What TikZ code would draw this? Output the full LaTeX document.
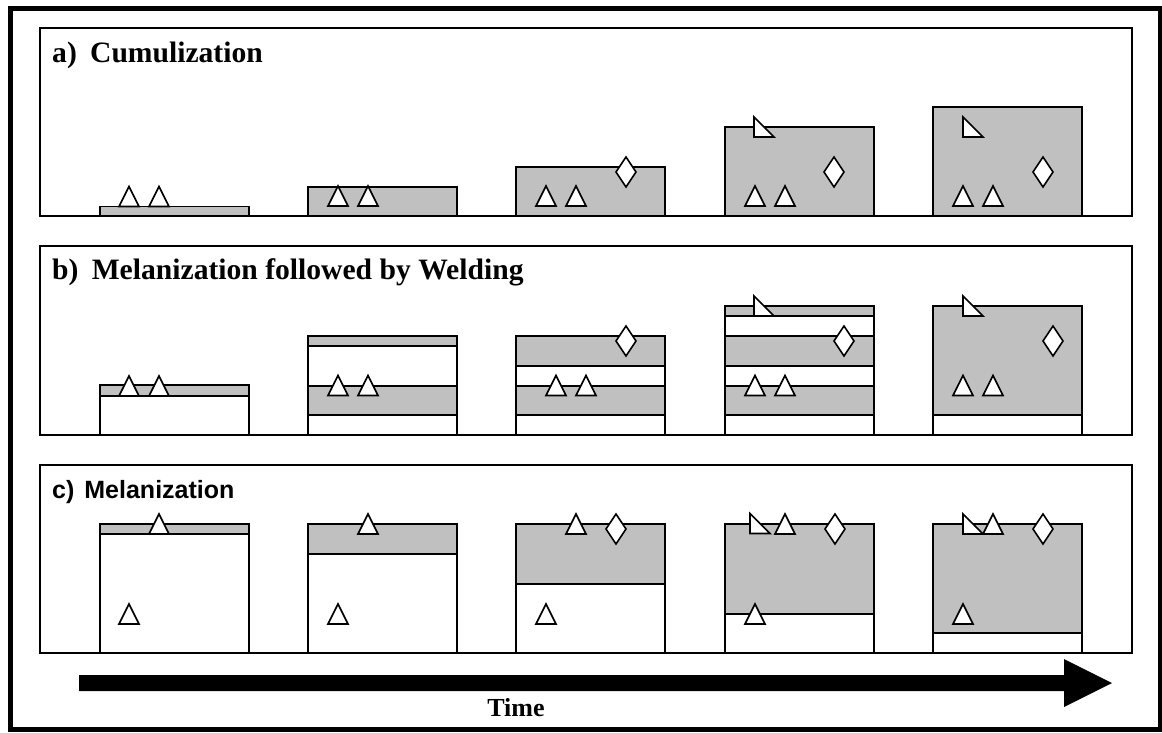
\documentclass[tikz,border=0pt]{standalone}
\usepackage{fontspec}
\setmainfont{Liberation Serif}
\newfontfamily\helvfam{Liberation Sans}
\definecolor{layergray}{HTML}{C0C0C0}
\tikzset{
  outerframe/.style={draw=black, line width=5pt},
  panel/.style={draw=black, line width=1.5pt},
  layerbox/.style={draw=black, line width=1.8pt},
  marker/.style={draw=black, fill=white, line width=1.6pt, line join=miter},
  title/.style={anchor=base west, inner sep=0pt, font=\bfseries\fontsize{29.6}{32}\selectfont},
  timearrow/.style={fill=black, draw=none},
}
\newcommand\mkLay[4]{\draw[layerbox, fill=#4] ({#1},{#2}) rectangle ({#1+149},{#3});}
\newcommand\mkTri[2]{\draw[marker] ({#1-10},{#2}) -- ({#1},{#2-20}) -- ({#1+10},{#2}) -- cycle;}
\newcommand\mkDia[2]{\draw[marker] ({#1},{#2-15}) -- ({#1+10},{#2}) -- ({#1},{#2+15}) -- ({#1-10},{#2}) -- cycle;}
\newcommand\mkRtri[2]{\draw[marker] ({#1},{#2-20}) -- ({#1+20},{#2}) -- ({#1},{#2}) -- cycle;}
\begin{document}
\begin{tikzpicture}[x=1pt,y=-1pt]
\useasboundingbox (0,0) rectangle (1162,732);
\draw[outerframe] (10.3,8) rectangle (1160.5,729.5);

% ---------- panel a ----------
\draw[panel] (40,28) rectangle (1132,216);
\node[title] (ta) at (52,62) {a)\hspace{0.45em}Cumulization};
\mkLay{100}{206.5}{216}{layergray}
\mkLay{308}{186.7}{216}{layergray}
\mkLay{516}{167.3}{216}{layergray}
\mkLay{725}{127.3}{216}{layergray}
\mkLay{933}{107.3}{216}{layergray}
\mkTri{129}{206.5}\mkTri{159}{206.5}
\mkTri{338}{206}\mkTri{368}{206}
\mkTri{546}{206}\mkTri{576}{206}
\mkTri{755}{206}\mkTri{785}{206}
\mkTri{963}{206}\mkTri{993}{206}
\mkDia{626}{172}\mkDia{834}{172}\mkDia{1043}{172}
\mkRtri{754}{137}\mkRtri{963}{137}

% ---------- panel b ----------
\draw[panel] (40,246) rectangle (1132,435);
\node[title] (tb) at (52,279) {b)\hspace{0.45em}Melanization followed by Welding};
% col 1
\mkLay{100}{385}{396}{layergray}
\mkLay{100}{396}{435}{white}
% col 2
\mkLay{308}{336}{346}{layergray}
\mkLay{308}{346}{386}{white}
\mkLay{308}{386}{415}{layergray}
\mkLay{308}{415}{435}{white}
% col 3
\mkLay{516}{336}{366}{layergray}
\mkLay{516}{366}{386}{white}
\mkLay{516}{386}{415}{layergray}
\mkLay{516}{415}{435}{white}
% col 4
\mkLay{725}{306}{316}{layergray}
\mkLay{725}{316}{336}{white}
\mkLay{725}{336}{366}{layergray}
\mkLay{725}{366}{386}{white}
\mkLay{725}{386}{415}{layergray}
\mkLay{725}{415}{435}{white}
% col 5
\mkLay{933}{306}{415}{layergray}
\mkLay{933}{415}{435}{white}
\mkTri{129}{396}\mkTri{159}{396}
\mkTri{338}{395.5}\mkTri{368}{395.5}
\mkTri{556}{395.5}\mkTri{586}{395.5}
\mkTri{755}{395.5}\mkTri{785}{395.5}
\mkTri{963}{395.5}\mkTri{993}{395.5}
\mkDia{626}{341}\mkDia{844}{341}\mkDia{1053}{341}
\mkRtri{754}{316}\mkRtri{963}{316}

% ---------- panel c ----------
\draw[panel] (40,465) rectangle (1132,653);
\node[title, font=\helvfam\bfseries\fontsize{25}{28}\selectfont] (tc) at (52,498) {c)\hspace{0.4em}Melanization};
\mkLay{100}{524}{534}{layergray}
\mkLay{100}{534}{653}{white}
\mkLay{308}{524}{554}{layergray}
\mkLay{308}{554}{653}{white}
\mkLay{516}{524}{584}{layergray}
\mkLay{516}{584}{653}{white}
\mkLay{725}{524}{614}{layergray}
\mkLay{725}{614}{653}{white}
\mkLay{933}{524}{633}{layergray}
\mkLay{933}{633}{653}{white}
\mkTri{159}{534}\mkTri{129}{624}
\mkTri{368}{534}\mkTri{338}{624}
\mkTri{576}{534}\mkTri{546}{624}
\mkTri{785}{534}\mkTri{755}{624}
\mkTri{993}{534}\mkTri{963}{624}
\mkDia{616}{529}\mkDia{835}{529}\mkDia{1043}{529}
\mkRtri{750}{533.5}\mkRtri{963}{534}

% ---------- time arrow ----------
\coordinate (arrstart) at (79,683);
\coordinate (arrtip) at (1112,683);
\fill[timearrow] (79,675) -- (1064,675) -- (1064,659) -- (arrtip) -- (1064,707) -- (1064,691) -- (79,691) -- cycle;
\node[anchor=base, inner sep=0pt, font=\bfseries\fontsize{26}{28}\selectfont] (time) at (516,716) {Time};
\end{tikzpicture}
\end{document}
